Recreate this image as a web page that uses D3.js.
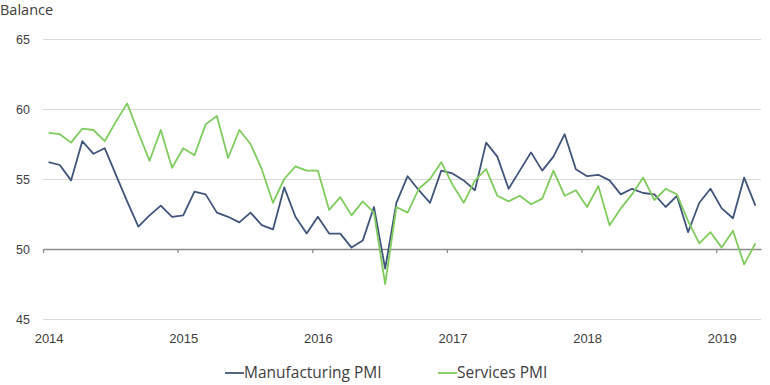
<!DOCTYPE html>
<html>
<head>
<meta charset="utf-8">
<script src="https://cdn.jsdelivr.net/npm/d3@7"></script>
<style>
  body { margin: 0; background: #fff; }
  svg { font-family: "Open Sans", sans-serif; }
</style>
</head>
<body>
<div id="chart"></div>
<script>
// monthly PMI readings, Jan 2014 - Apr 2019
const YEARS = ['2014', '2015', '2016', '2017', '2018', '2019'];

const MANUFACTURING = [
    56.2, 56.0, 54.9, 57.7, 56.8, 57.2, 55.3, 53.4, 51.6, 52.4, 53.1, 52.3,
    52.4, 54.1, 53.9, 52.6, 52.3, 51.9, 52.6, 51.7, 51.4, 54.4, 52.3, 51.1,
    52.3, 51.1, 51.1, 50.1, 50.6, 53.0, 48.6, 53.3, 55.2, 54.2, 53.3, 55.6,
    55.4, 54.9, 54.2, 57.6, 56.6, 54.3, 55.6, 56.9, 55.6, 56.6, 58.2, 55.7,
    55.2, 55.3, 54.9, 53.9, 54.3, 54.0, 53.9, 53.0, 53.8, 51.2, 53.3, 54.3,
    52.9, 52.2, 55.1, 53.1
];

const SERVICES = [
    58.3, 58.2, 57.6, 58.6, 58.5, 57.7, 59.1, 60.4, 58.3, 56.3, 58.5, 55.8,
    57.2, 56.7, 58.9, 59.5, 56.5, 58.5, 57.5, 55.7, 53.3, 55.0, 55.9, 55.6,
    55.6, 52.8, 53.7, 52.4, 53.4, 52.6, 47.5, 53.0, 52.6, 54.3, 55.0, 56.2,
    54.6, 53.3, 54.9, 55.7, 53.8, 53.4, 53.8, 53.2, 53.6, 55.6, 53.8, 54.2,
    53.0, 54.5, 51.7, 52.9, 53.9, 55.1, 53.5, 54.3, 53.9, 52.0, 50.4, 51.2,
    50.1, 51.3, 48.9, 50.4
];

const Y_TICKS = [45, 50, 55, 60, 65];

const SERIES = [
    {name: 'Manufacturing PMI', values: MANUFACTURING, color: '#41557a'},
    {name: 'Services PMI', values: SERVICES, color: '#80cc5e'}
];

const WIDTH = 770;
const HEIGHT = 385;
let margin = {top: 39, right: 9, bottom: 66, left: 43};
let width = WIDTH - margin.left - margin.right;
let height = HEIGHT - margin.top - margin.bottom;

let svg = d3.select('#chart').append('svg')
    .attr('width', WIDTH)
    .attr('height', HEIGHT)
    .append('g')
    .attr('transform', 'translate(' + margin.left + ',' + margin.top + ')');

// category axis: one slot per month, points in the middle of the slot
let nMonths = MANUFACTURING.length;
let x = d3.scaleLinear().domain([0, nMonths]).range([0, width]);
let y = d3.scaleLinear().domain([45, 65]).range([height, 0]);

// gridlines + y labels
let yAxis = svg.append('g')
    .call(d3.axisLeft(y).tickValues(Y_TICKS).tickSize(-width).tickPadding(13));
yAxis.select('.domain').remove();
yAxis.selectAll('.tick line')
    .attr('stroke', d => d === 50 ? 'none' : '#d9d9d9')
    .attr('stroke-width', 1.2);
yAxis.selectAll('.tick text')
    .attr('fill', '#404040')
    .style('font-size', '12.5px');

// x axis line sits on 50, ticks at year boundaries
let yearStarts = YEARS.map((d, i) => i * 12);
let xLine = svg.append('g')
    .attr('transform', 'translate(0,' + y(50) + ')')
    .call(d3.axisBottom(x).tickValues(yearStarts).tickSize(4).tickSizeOuter(0).tickFormat(''));
xLine.select('.domain').attr('stroke', '#8c8c8c').attr('stroke-width', 1.3);
xLine.selectAll('.tick line').attr('stroke', '#8c8c8c').attr('stroke-width', 1.3);

// year labels at the bottom, centred on January
let xLabels = svg.append('g')
    .attr('transform', 'translate(0,' + height + ')')
    .call(d3.axisBottom(x)
        .tickValues(yearStarts.map(d => d + 0.5))
        .tickSize(0)
        .tickPadding(15)
        .tickFormat((d, i) => YEARS[i]));
xLabels.select('.domain').remove();
xLabels.selectAll('.tick text')
    .attr('fill', '#404040')
    .style('font-size', '13px');

// lines
let valueline = d3.line()
    .x((d, i) => x(i + 0.5))
    .y(d => y(d));

SERIES.forEach(s => {
    svg.append('path')
        .datum(s.values)
        .attr('fill', 'none')
        .attr('stroke', s.color)
        .attr('stroke-width', 1.8)
        .attr('stroke-linejoin', 'round')
        .attr('d', valueline);
});

// axis title
d3.select('svg').append('text')
    .attr('x', 0)
    .attr('y', 15)
    .attr('fill', '#404040')
    .style('font-size', '14.5px')
    .text('Balance');

// legend
let legendPos = [225, 438];
let legend = d3.select('svg').append('g');
SERIES.forEach((s, i) => {
    let g = legend.append('g').attr('transform', 'translate(' + legendPos[i] + ',373)');
    g.append('line')
        .attr('x1', 0).attr('x2', 19)
        .attr('stroke', s.color)
        .attr('stroke-width', 1.8);
    g.append('text')
        .attr('x', 19)
        .attr('dy', '0.35em')
        .attr('fill', '#404040')
        .style('font-size', '15.5px')
        .text(s.name);
});
</script>
</body>
</html>
